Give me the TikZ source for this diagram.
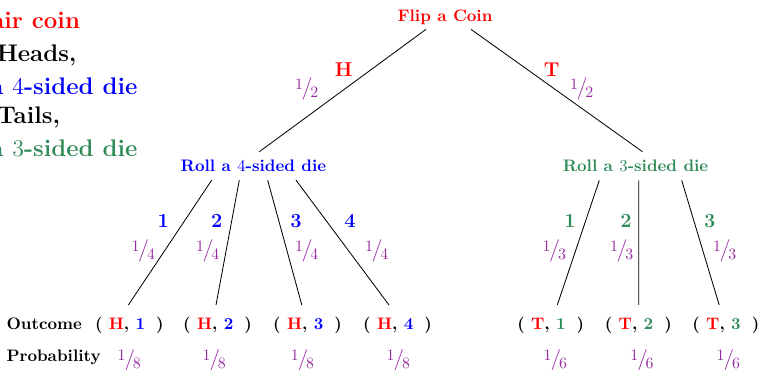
\documentclass[tikz,border=0pt]{standalone}
\usepackage{fontspec}
\usetikzlibrary{calc}
\definecolor{cred}{RGB}{255,0,0}
\definecolor{cblue}{RGB}{0,0,255}
\definecolor{cgreen}{RGB}{46,139,87}
\definecolor{cpurp}{RGB}{150,40,160}
\newcommand{\nfr}[2]{\raisebox{.6ex}{\fontsize{9.5}{10}\selectfont #1}\kern-.06em/\kern-.1em\raisebox{-.25ex}{\fontsize{9.5}{10}\selectfont #2}}
\tikzset{
  every node/.style={inner sep=0pt, outer sep=0pt},
  ttl/.style={font=\fontsize{10}{12}\selectfont\bfseries, anchor=base},
  lft/.style={font=\fontsize{14.4}{17}\selectfont\bfseries, anchor=base east},
  brl/.style={font=\fontsize{12}{14}\selectfont\bfseries, anchor=base},
  prb/.style={font=\fontsize{13.5}{15}\selectfont, text=cpurp, anchor=base},
  outc/.style={font=\fontsize{10}{12}\selectfont\bfseries, anchor=base},
  edge/.style={draw=black, line width=0.5pt},
}
\newcommand{\oc}[2]{( \textcolor{cred}{#1}, #2\hspace{6.6pt})}
\begin{document}
\begin{tikzpicture}[x=0.6pt,y=-0.6pt]
\useasboundingbox (0,0) rectangle (762,370);
\clip (0,0) rectangle (762,370);
% left description
\node[lft,text=cred] (l1) at (80,28.5) {air coin};
\node[lft] (l2) at (76.5,61.5) {Heads,};
\node[lft,text=cblue] (l3) at (137.5,95) {a {\mdseries 4}-sided die};
\node[lft] (l4) at (60,123.2) {Tails,};
\node[lft,text=cgreen] (l5) at (137.5,156.7) {a {\mdseries 3}-sided die};
% tree nodes
\node[ttl,text=cred] (root) at (445,21.5) {Flip a Coin};
\node[ttl,text=cblue] (r4) at (253.4,171.4) {Roll a {\mdseries 4}-sided die};
\node[ttl,text=cgreen] (r3) at (635.5,171.4) {Roll a {\mdseries 3}-sided die};
% outcomes
\node[outc,anchor=base west] (olab) at (6.5,329.7) {Outcome};
\node[outc,anchor=base west] (plab) at (6.5,361.7) {Probability};
\node[outc] (o1) at (129.3,329.7) {\oc{H}{\textcolor{cblue}{1}}};
\node[outc] (o2) at (217.5,329.7) {\oc{H}{\textcolor{cblue}{2}}};
\node[outc] (o3) at (307.5,329.7) {\oc{H}{\textcolor{cblue}{3}}};
\node[outc] (o4) at (397.5,329.7) {\oc{H}{\textcolor{cblue}{4}}};
\node[outc] (o5) at (550.7,329.7) {\oc{T}{\textcolor{cgreen}{1}}};
\node[outc] (o6) at (638.3,329.7) {\oc{T}{\textcolor{cgreen}{2}}};
\node[outc] (o7) at (725.8,329.7) {\oc{T}{\textcolor{cgreen}{3}}};
% probabilities
\node[prb] (p1) at (129.2,366.5) {\nfr18};
\node[prb] (p2) at (214.2,366.5) {\nfr18};
\node[prb] (p3) at (302.5,366.5) {\nfr18};
\node[prb] (p4) at (398.3,366.5) {\nfr18};
\node[prb] (p5) at (555.3,366.5) {\nfr16};
\node[prb] (p6) at (642,366.5) {\nfr16};
\node[prb] (p7) at (728.3,366.5) {\nfr16};
% edges
\draw[edge] ($(root.south)+(-19,4.6)$) -- ($(r4.north)+(5.9,-8.1)$);
\draw[edge] ($(root.south)+(26,4.6)$) -- ($(r3.north)+(7,-8.1)$);
\draw[edge] ($(r4.south)+(-41.7,8.6)$) -- ($(o1.north)+(-0.9,-12.2)$);
\draw[edge] ($(r4.south)+(-14.1,8.6)$) -- ($(o2.north)+(-1.5,-12.2)$);
\draw[edge] ($(r4.south)+(14.3,8.6)$) -- ($(o3.north)+(-5.7,-12.2)$);
\draw[edge] ($(r4.south)+(42.6,8.6)$) -- ($(o4.north)+(-8.5,-12.2)$);
\draw[edge] ($(r3.south)+(-36.2,8.6)$) -- ($(o5.north)+(6.6,-12.2)$);
\draw[edge] ($(r3.south)+(3.2,8.6)$) -- ($(o6.north)+(0.4,-12.2)$);
\draw[edge] ($(r3.south)+(46.2,8.6)$) -- ($(o7.north)+(-6.6,-12.2)$);
% branch labels
\node[brl,text=cred] (lH) at (343.7,77) {H};
\node[brl,text=cred] (lT) at (551.7,77) {T};
\node[prb] (fH) at (306.7,94.9) {\nfr12};
\node[prb] (fT) at (581.7,94.9) {\nfr12};
\node[brl,text=cblue] (d1) at (163.3,228) {1};
\node[brl,text=cblue] (d2) at (216.7,228) {2};
\node[brl,text=cblue] (d3) at (296,228) {3};
\node[brl,text=cblue] (d4) at (350,228) {4};
\node[prb] (f1) at (143.3,256.9) {\nfr14};
\node[prb] (f2) at (207.7,256.9) {\nfr14};
\node[prb] (f3) at (306.7,256.9) {\nfr14};
\node[prb] (f4) at (376.7,256.9) {\nfr14};
\node[brl,text=cgreen] (e1) at (570,228) {1};
\node[brl,text=cgreen] (e2) at (626,228) {2};
\node[brl,text=cgreen] (e3) at (709.7,228) {3};
\node[prb] (g1) at (554.3,256.9) {\nfr13};
\node[prb] (g2) at (621.7,256.9) {\nfr13};
\node[prb] (g3) at (724.7,256.9) {\nfr13};
\end{tikzpicture}
\end{document}
